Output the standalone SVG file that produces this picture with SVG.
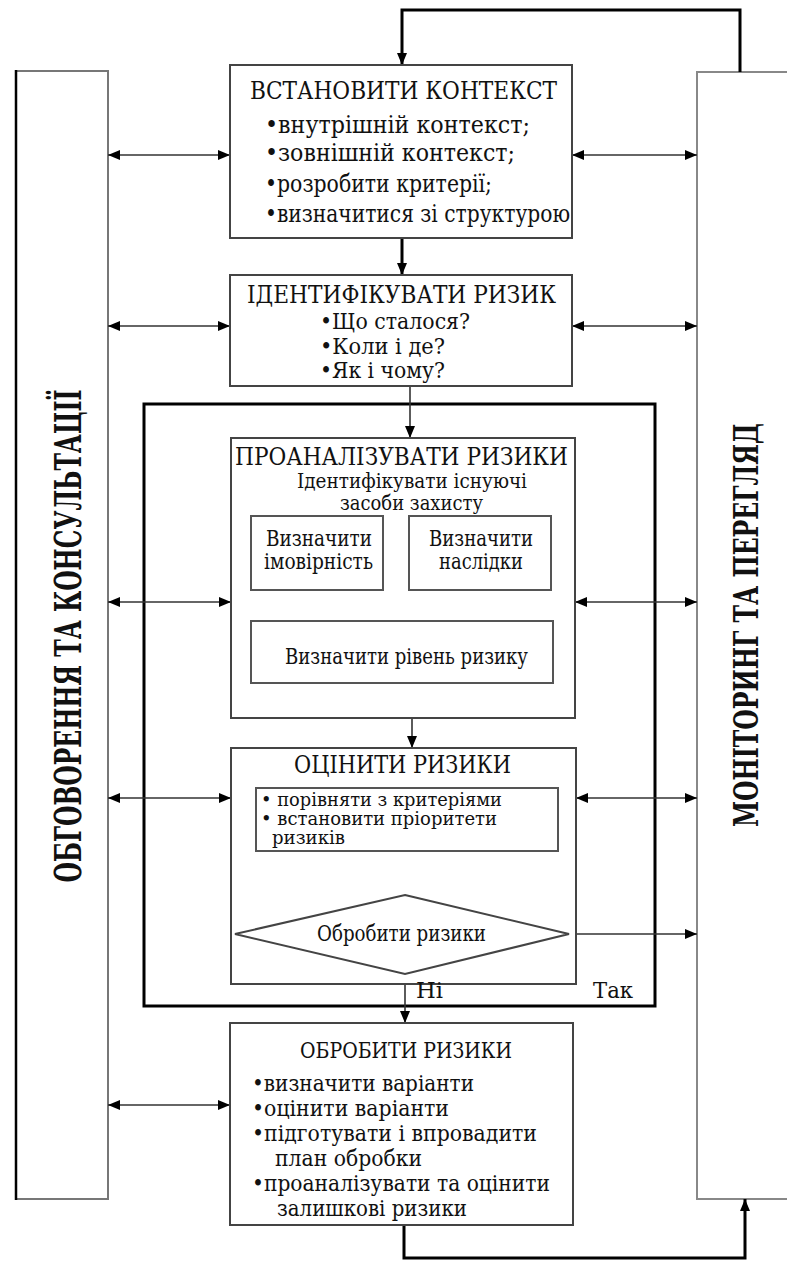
<svg xmlns="http://www.w3.org/2000/svg" width="787" height="1261" viewBox="0 0 787 1261">
  <defs>
    <marker id="ah" viewBox="0 0 12 10" refX="12" refY="5" markerWidth="12" markerHeight="10" markerUnits="userSpaceOnUse" orient="auto-start-reverse">
      <path d="M0,0 L12,5 L0,10 Z" fill="#000"/>
    </marker>
  </defs>
  <style>
    .box{fill:#fff;stroke:#444;stroke-width:2}
    .ibox{fill:#fff;stroke:#555;stroke-width:2}
    .frame{fill:none;stroke:#000;stroke-width:3}
    text{font-family:"DejaVu Serif","Liberation Serif","Noto Serif",serif;fill:#111}
    .side{font-weight:bold}
    .thick{fill:none;stroke:#000;stroke-width:3}
    .thin{fill:none;stroke:#333;stroke-width:1.6}
    .dbl{fill:none;stroke:#333;stroke-width:1.6;marker-start:url(#ah);marker-end:url(#ah)}
  </style>

  <rect width="787" height="1261" fill="#fff"/>

  <!-- side columns -->
  <g id="consult">
    <rect x="16" y="71" width="92" height="1128" fill="#fff" stroke="#777" stroke-width="2"/>
    <line x1="16" y1="70" x2="16" y2="1200" stroke="#000" stroke-width="2.5"/>
    <text class="side" font-size="37" text-anchor="middle" textLength="493" lengthAdjust="spacingAndGlyphs" transform="translate(81,636) rotate(-90)">ОБГОВОРЕННЯ ТА КОНСУЛЬТАЦІЇ</text>
  </g>
  <g id="monitor">
    <path d="M790,72 H697 V1199 H790" fill="#fff" stroke="#888" stroke-width="2"/>
    <text class="side" font-size="33" text-anchor="middle" textLength="404" lengthAdjust="spacingAndGlyphs" transform="translate(758,625) rotate(-90)">МОНІТОРИНГ ТА ПЕРЕГЛЯД</text>
  </g>

  <!-- outer analysis frame -->
  <g id="assess-frame">
    <rect class="frame" x="144" y="404" width="511" height="602"/>
  </g>

  <!-- connectors -->
  <g id="connectors">
    <path class="thick" d="M740,72 V10 H402 V65" marker-end="url(#ah)"/>
    <path class="thick" d="M402,238 V275" stroke-width="2.5" marker-end="url(#ah)"/>
    <path class="thin" d="M410,386 V438" marker-end="url(#ah)"/>
    <path class="thin" d="M412,683 V748" marker-end="url(#ah)"/>
    <path class="thin" d="M405,851 V895" stroke="#111" marker-end="url(#ah)"/>
    <path class="thin" d="M405,974 V1023" marker-end="url(#ah)"/>
    <path class="thick" d="M404,1225 V1258 H745 V1199" stroke-width="2.5" marker-end="url(#ah)"/>
    <path class="thick" d="M313,590 V621" marker-end="url(#ah)"/>
    <path class="thick" d="M485,590 V621" marker-end="url(#ah)"/>
    <path class="thin" d="M569,934 H697" marker-end="url(#ah)"/>
    <!-- exchanges with the side columns -->
    <path class="dbl" d="M108,155 H230"/>
    <path class="dbl" d="M572,155 H697"/>
    <path class="dbl" d="M108,326 H230"/>
    <path class="dbl" d="M572,326 H697"/>
    <path class="dbl" d="M108,602 H231"/>
    <path class="dbl" d="M575,602 H697"/>
    <path class="dbl" d="M108,798 H231"/>
    <path class="dbl" d="M576,798 H697"/>
    <path class="dbl" d="M108,1105 H230"/>
  </g>

  <g id="context">
    <rect class="box" x="230" y="65" width="342" height="173"/>
    <text x="250" y="99" font-size="25" textLength="307" lengthAdjust="spacingAndGlyphs">ВСТАНОВИТИ КОНТЕКСТ</text>
    <text x="265" y="133" font-size="24" textLength="265" lengthAdjust="spacingAndGlyphs">•внутрішній контекст;</text>
    <text x="265" y="161" font-size="24" textLength="250" lengthAdjust="spacingAndGlyphs">•зовнішній контекст;</text>
    <text x="265" y="192" font-size="24" textLength="227" lengthAdjust="spacingAndGlyphs">•розробити критерії;</text>
    <text x="265" y="222" font-size="24" textLength="305" lengthAdjust="spacingAndGlyphs">•визначитися зі структурою</text>
  </g>

  <g id="identify">
    <rect class="box" x="230" y="275" width="342" height="111"/>
    <text x="247" y="303" font-size="25" textLength="309" lengthAdjust="spacingAndGlyphs">ІДЕНТИФІКУВАТИ РИЗИК</text>
    <text x="320" y="329" font-size="23" textLength="150" lengthAdjust="spacingAndGlyphs">•Що сталося?</text>
    <text x="320" y="354" font-size="23" textLength="125" lengthAdjust="spacingAndGlyphs">•Коли і де?</text>
    <text x="320" y="378" font-size="23" textLength="125" lengthAdjust="spacingAndGlyphs">•Як і чому?</text>
  </g>

  <g id="analyse">
    <rect class="box" x="231" y="438" width="344" height="280"/>
    <text x="235" y="465" font-size="25" textLength="333" lengthAdjust="spacingAndGlyphs">ПРОАНАЛІЗУВАТИ РИЗИКИ</text>
    <text x="297" y="488" font-size="20" textLength="230" lengthAdjust="spacingAndGlyphs">Ідентифікувати існуючі</text>
    <text x="340" y="510" font-size="20" textLength="143" lengthAdjust="spacingAndGlyphs">засоби захисту</text>
  </g>
  <g id="likelihood">
    <rect class="ibox" x="251" y="516" width="132" height="74"/>
    <text x="266" y="546" font-size="22" textLength="106" lengthAdjust="spacingAndGlyphs">Визначити</text>
    <text x="264" y="569" font-size="22" textLength="109" lengthAdjust="spacingAndGlyphs">імовірність</text>
  </g>
  <g id="consequences">
    <rect class="ibox" x="409" y="516" width="142" height="74"/>
    <text x="429" y="546" font-size="22" textLength="104" lengthAdjust="spacingAndGlyphs">Визначити</text>
    <text x="439" y="569" font-size="22" textLength="84" lengthAdjust="spacingAndGlyphs">наслідки</text>
  </g>
  <g id="risk-level">
    <rect class="ibox" x="251" y="621" width="302" height="62"/>
    <text x="285" y="664" font-size="22" textLength="243" lengthAdjust="spacingAndGlyphs">Визначити рівень ризику</text>
  </g>

  <g id="evaluate">
    <rect class="box" x="231" y="748" width="345" height="236"/>
    <text x="294" y="773" font-size="25" textLength="217" lengthAdjust="spacingAndGlyphs">ОЦІНИТИ РИЗИКИ</text>
  </g>
  <g id="compare">
    <rect class="ibox" x="256" y="788" width="302" height="63"/>
    <text x="261" y="806" font-size="19" textLength="241" lengthAdjust="spacingAndGlyphs">• порівняти з критеріями</text>
    <text x="261" y="825" font-size="19" textLength="236" lengthAdjust="spacingAndGlyphs">• встановити пріоритети</text>
    <text x="272" y="844" font-size="19" textLength="73" lengthAdjust="spacingAndGlyphs">ризиків</text>
  </g>
  <g id="decision">
    <polygon points="405,895 569,934 405,974 235,934" fill="#fff" stroke="#444" stroke-width="2"/>
    <text x="317" y="941" font-size="22" textLength="169" lengthAdjust="spacingAndGlyphs">Обробити ризики</text>
  </g>
  <g id="branch-labels">
    <text x="416" y="998" font-size="22" textLength="27" lengthAdjust="spacingAndGlyphs">Ні</text>
    <text x="593" y="998" font-size="22" textLength="40" lengthAdjust="spacingAndGlyphs">Так</text>
  </g>

  <g id="treat">
    <rect class="box" x="230" y="1023" width="343" height="202"/>
    <text x="300" y="1058" font-size="22" textLength="212" lengthAdjust="spacingAndGlyphs">ОБРОБИТИ РИЗИКИ</text>
    <text x="252" y="1091" font-size="23" textLength="222" lengthAdjust="spacingAndGlyphs">•визначити варіанти</text>
    <text x="252" y="1116" font-size="23" textLength="197" lengthAdjust="spacingAndGlyphs">•оцінити варіанти</text>
    <text x="252" y="1141" font-size="23" textLength="285" lengthAdjust="spacingAndGlyphs">•підготувати і впровадити</text>
    <text x="275" y="1166" font-size="23" textLength="147" lengthAdjust="spacingAndGlyphs">план обробки</text>
    <text x="252" y="1191" font-size="23" textLength="298" lengthAdjust="spacingAndGlyphs">•проаналізувати та оцінити</text>
    <text x="277" y="1216" font-size="23" textLength="190" lengthAdjust="spacingAndGlyphs">залишкові ризики</text>
  </g>
</svg>
